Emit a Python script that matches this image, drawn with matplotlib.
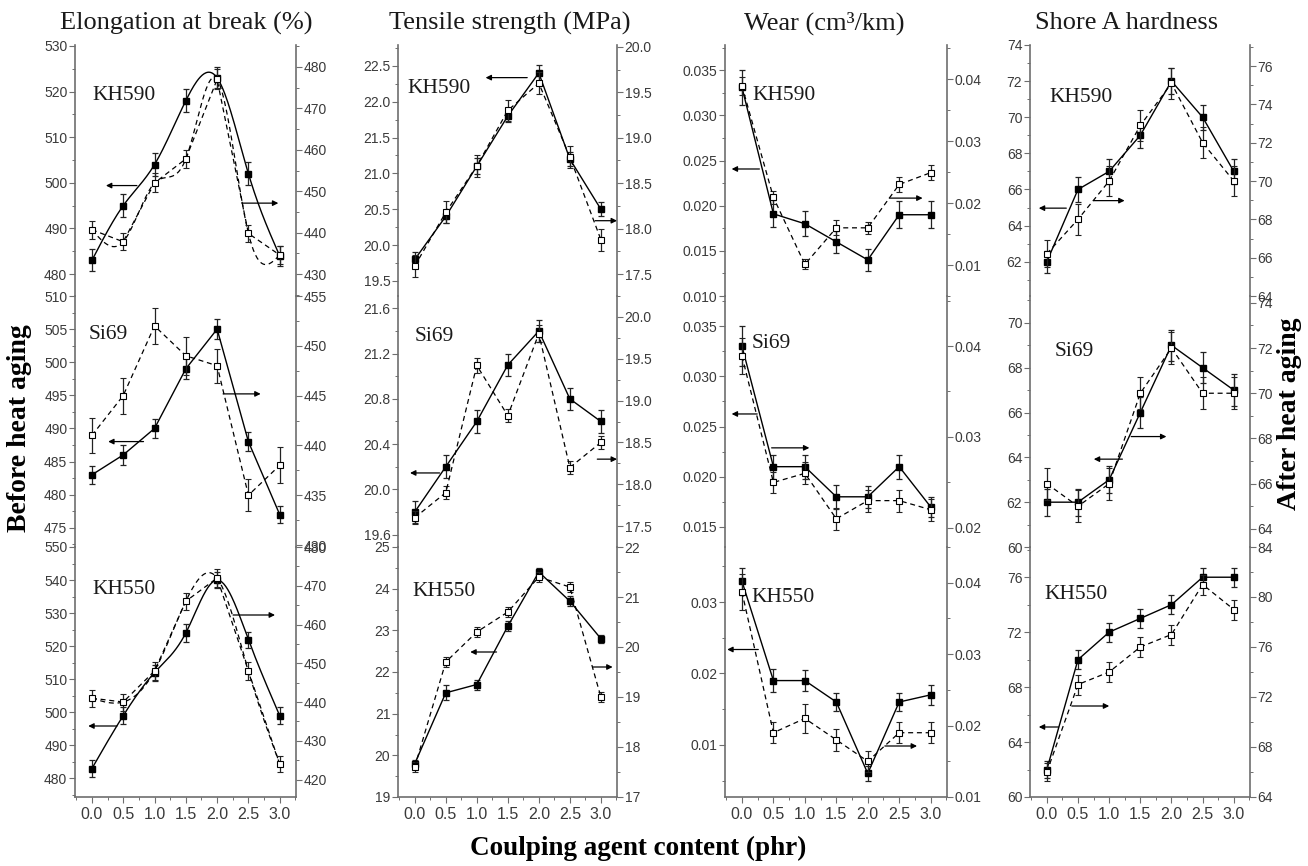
import numpy as np
import matplotlib.pyplot as plt
from matplotlib.ticker import MultipleLocator, FormatStrFormatter

plt.rcParams["font.family"] = ["Liberation Sans Narrow", "Liberation Sans", "DejaVu Sans"]
SERIF = ["Liberation Serif", "DejaVu Serif"]

content = [0.0, 0.5, 1.0, 1.5, 2.0, 2.5, 3.0]
agents = ["KH590", "Si69", "KH550"]
properties = ["Elongation at break (%)", "Tensile strength (MPa)",
              "Wear (cm\u00b3/km)", "Shore A hardness"]

# before heat aging -> left axis, filled squares, solid line
# after heat aging  -> right axis, open squares, dashed line
elong_before = {"KH590": [483, 495, 504, 518, 523, 502, 484],
                "Si69": [483, 486, 490, 499, 505, 488, 477],
                "KH550": [483, 499, 512, 524, 540, 522, 499]}
elong_after = {"KH590": [440.7, 437.8, 452.0, 457.8, 477.0, 439.8, 434.6],
               "Si69": [441, 445, 452, 449, 448, 435, 438],
               "KH550": [441, 440, 448, 466, 472, 448, 424]}
elong_before_err = {"KH590": [2.4, 2.5, 2.6, 2.5, 2.3, 2.5, 2.2],
                    "Si69": [1.4, 1.5, 1.5, 1.6, 1.5, 1.4, 1.3],
                    "KH550": [2.6, 2.5, 2.4, 2.6, 2.5, 2.4, 2.5]}
elong_after_err = {"KH590": [2.2, 2.0, 2.3, 2.1, 2.4, 2.0, 2.1],
                   "Si69": [1.8, 1.8, 1.8, 1.9, 1.7, 1.6, 1.8],
                   "KH550": [2.2, 2.2, 2.4, 2.2, 2.3, 2.3, 2.0]}

tensile_before = {"KH590": [19.8, 20.4, 21.1, 21.8, 22.4, 21.2, 20.5],
                  "Si69": [19.8, 20.2, 20.6, 21.1, 21.4, 20.8, 20.6],
                  "KH550": [19.8, 21.5, 21.7, 23.1, 24.4, 23.7, 22.8]}
tensile_after = {"KH590": [17.59, 18.18, 18.69, 19.30, 19.60, 18.79, 17.88],
                 "Si69": [17.6, 17.9, 19.42, 18.82, 19.8, 18.2, 18.5],
                 "KH550": [17.6, 19.7, 20.3, 20.7, 21.4, 21.2, 19.0]}
tensile_before_err = {"KH590": [0.10, 0.09, 0.11, 0.09, 0.11, 0.10, 0.10],
                      "Si69": [0.10, 0.10, 0.10, 0.10, 0.10, 0.10, 0.10],
                      "KH550": [0.08, 0.18, 0.12, 0.12, 0.10, 0.12, 0.10]}
tensile_after_err = {"KH590": [0.12, 0.12, 0.12, 0.12, 0.12, 0.12, 0.12],
                     "Si69": [0.08, 0.08, 0.09, 0.08, 0.10, 0.08, 0.08],
                     "KH550": [0.10, 0.10, 0.10, 0.10, 0.10, 0.10, 0.10]}

wear_before = {"KH590": [0.0331, 0.0191, 0.0180, 0.0160, 0.0140, 0.0190, 0.0190],
               "Si69": [0.0330, 0.0210, 0.0210, 0.0180, 0.0180, 0.0210, 0.0170],
               "KH550": [0.0329, 0.0190, 0.0190, 0.0160, 0.0060, 0.0160, 0.0170]}
wear_after = {"KH590": [0.0389, 0.0209, 0.0101, 0.0160, 0.0160, 0.0230, 0.0249],
              "Si69": [0.0389, 0.0250, 0.0260, 0.0210, 0.0230, 0.0230, 0.0220],
              "KH550": [0.0387, 0.0190, 0.0210, 0.0180, 0.0150, 0.0190, 0.0190]}
wear_before_err = {"KH590": [0.0019, 0.0015, 0.0014, 0.0012, 0.0012, 0.0015, 0.0015],
                   "Si69": [0.0020, 0.0012, 0.0012, 0.0012, 0.0011, 0.0012, 0.0010],
                   "KH550": [0.0019, 0.0016, 0.0015, 0.0013, 0.0010, 0.0013, 0.0014]}
wear_after_err = {"KH590": [0.0014, 0.0010, 0.0008, 0.0012, 0.0010, 0.0012, 0.0012],
                  "Si69": [0.0020, 0.0012, 0.0012, 0.0012, 0.0012, 0.0012, 0.0012],
                  "KH550": [0.0025, 0.0015, 0.0020, 0.0015, 0.0015, 0.0015, 0.0015]}

hard_before = {"KH590": [62, 66, 67, 69, 72, 70, 67],
               "Si69": [62, 62, 63, 66, 69, 68, 67],
               "KH550": [62, 70, 72, 73, 74, 76, 76]}
hard_after = {"KH590": [66.2, 68.0, 70.0, 72.9, 75.1, 72.0, 70.0],
              "Si69": [66, 65, 66, 70, 72, 70, 70],
              "KH550": [66, 73, 74, 76, 77, 81, 79]}
hard_before_err = {"KH590": [0.6, 0.7, 0.7, 0.7, 0.7, 0.7, 0.7],
                   "Si69": [0.6, 0.6, 0.6, 0.7, 0.7, 0.7, 0.7],
                   "KH550": [0.6, 0.7, 0.7, 0.7, 0.7, 0.7, 0.7]}
hard_after_err = {"KH590": [0.7, 0.8, 0.8, 0.8, 0.8, 0.8, 0.8],
                  "Si69": [0.7, 0.7, 0.7, 0.7, 0.7, 0.7, 0.7],
                  "KH550": [0.7, 0.8, 0.8, 0.8, 0.8, 0.8, 0.8]}

series = [(elong_before, elong_after, elong_before_err, elong_after_err),
          (tensile_before, tensile_after, tensile_before_err, tensile_after_err),
          (wear_before, wear_after, wear_before_err, wear_after_err),
          (hard_before, hard_after, hard_before_err, hard_after_err)]

# ---- layout / axis styling ----
W, H = 1308, 866
col_x = [(75, 296), (398, 617), (725, 947), (1030, 1250)]
row_y = [(45, 296), (296, 547), (547, 797)]

left_lim = [[(475.2, 530.2), (472.1, 510.0), (474.4, 550.0)],
            [(19.29, 22.79), (19.49, 21.71), (19.0, 25.0)],
            [(0.0100, 0.0378), (0.0130, 0.0380), (0.0027, 0.0377)],
            [(60.1, 74.0), (60.0, 71.2), (60.0, 78.2)]]
right_lim = [[(424.7, 485.3), (429.8, 455.0), (415.5, 480.0)],
             [(17.26, 20.02), (17.25, 20.25), (17.0, 22.0)],
             [(0.005, 0.0455), (0.0179, 0.0455), (0.010, 0.045)],
             [(64.0, 77.1), (63.2, 74.3), (64.0, 84.0)]]
left_step = [[10, 5, 10], [0.5, 0.4, 1], [0.005, 0.005, 0.01], [2, 2, 4]]
right_step = [[10, 5, 10], [0.5, 0.5, 1], [0.01, 0.01, 0.01], [2, 2, 4]]
left_fmt = [["%d"] * 3, ["%.1f", "%.1f", "%d"], ["%.3f", "%.3f", "%.2f"], ["%d"] * 3]
right_fmt = [["%d"] * 3, ["%.1f", "%.1f", "%d"], ["%.2f"] * 3, ["%d"] * 3]
smooth_panels = {(0, 0), (0, 2)}

# arrows in axes fraction: (x_start, x_end, y)
arrows = {(0, 0): [(0.28, 0.14, 0.44), (0.755, 0.92, 0.37)],
          (0, 1): [(0.31, 0.15, 0.42), (0.67, 0.84, 0.61)],
          (0, 2): [(0.19, 0.06, 0.284), (0.715, 0.905, 0.728)],
          (1, 0): [(0.59, 0.40, 0.87), (0.90, 1.0, 0.30)],
          (1, 1): [(0.19, 0.055, 0.295), (0.91, 1.0, 0.35)],
          (1, 2): [(0.45, 0.33, 0.58), (0.89, 0.98, 0.52)],
          (2, 0): [(0.155, 0.03, 0.506), (0.74, 0.89, 0.39)],
          (2, 1): [(0.145, 0.03, 0.53), (0.21, 0.38, 0.395)],
          (2, 2): [(0.15, 0.01, 0.59), (0.72, 0.865, 0.204)],
          (3, 0): [(0.165, 0.04, 0.35), (0.29, 0.43, 0.38)],
          (3, 1): [(0.42, 0.29, 0.35), (0.46, 0.62, 0.44)],
          (3, 2): [(0.13, 0.04, 0.28), (0.19, 0.36, 0.364)]}
tag_pos = {(0, 0): (0.08, 0.80), (0, 1): (0.06, 0.845), (0, 2): (0.077, 0.83),
           (1, 0): (0.045, 0.825), (1, 1): (0.075, 0.837), (1, 2): (0.065, 0.82),
           (2, 0): (0.125, 0.80), (2, 1): (0.12, 0.81), (2, 2): (0.12, 0.80),
           (3, 0): (0.09, 0.79), (3, 1): (0.11, 0.78), (3, 2): (0.064, 0.81)}

SPINE = "#6e6e6e"
LABEL = "#3a3a3a"


def spline(xs, ys, n=200):
    """natural cubic spline through the points, for the smooth curves"""
    xs = np.asarray(xs, float)
    ys = np.asarray(ys, float)
    k = len(xs)
    h = np.diff(xs)
    A = np.zeros((k, k))
    b = np.zeros(k)
    A[0, 0] = A[-1, -1] = 1
    for i in range(1, k - 1):
        A[i, i - 1] = h[i - 1]
        A[i, i] = 2 * (h[i - 1] + h[i])
        A[i, i + 1] = h[i]
        b[i] = 6 * ((ys[i + 1] - ys[i]) / h[i] - (ys[i] - ys[i - 1]) / h[i - 1])
    M = np.linalg.solve(A, b)
    xx = np.linspace(xs[0], xs[-1], n)
    j = np.clip(np.searchsorted(xs, xx) - 1, 0, k - 2)
    hj = h[j]
    a = xs[j + 1] - xx
    c = xx - xs[j]
    yy = (M[j] * a ** 3 + M[j + 1] * c ** 3) / (6 * hj) \
        + (ys[j] - M[j] * hj ** 2 / 6) * a / hj \
        + (ys[j + 1] - M[j + 1] * hj ** 2 / 6) * c / hj
    return xx, yy


def style_axis(ax, side, show_bottom):
    for s in ["top", "bottom", "left", "right"]:
        ax.spines[s].set_visible(False)
    ax.spines[side].set_visible(True)
    ax.spines[side].set_color(SPINE)
    ax.spines[side].set_linewidth(1.2)
    if show_bottom:
        ax.spines["bottom"].set_visible(True)
        ax.spines["bottom"].set_color(SPINE)
        ax.spines["bottom"].set_linewidth(1.2)
    ax.tick_params(axis="y", which="both", direction="out", colors=SPINE,
                   labelcolor=LABEL, labelsize=10, pad=1.5)
    ax.tick_params(axis="y", which="major", length=4, width=0.8)
    ax.tick_params(axis="y", which="minor", length=2.5, width=0.7)


fig = plt.figure(figsize=(W / 100, H / 100), dpi=100)

for c in range(4):
    before, after, before_err, after_err = series[c]
    for r, agent in enumerate(agents):
        x0, x1 = col_x[c]
        y0, y1 = row_y[r]
        axl = fig.add_axes([x0 / W, 1 - y1 / H, (x1 - x0) / W, (y1 - y0) / H])
        axl.patch.set_alpha(0)
        axr = axl.twinx()

        axl.set_xlim(-0.27, 3.26)
        axl.set_ylim(*left_lim[c][r])
        axr.set_ylim(*right_lim[c][r])

        smooth = (c, r) in smooth_panels
        if smooth:
            sx, sy = spline(content, before[agent])
            axl.plot(sx, sy, color="k", lw=1.0)
            sx, sy = spline(content, after[agent])
            axr.plot(sx, sy, color="k", lw=0.9, ls=(0, (4, 3)))
        # filled squares, before aging, left axis
        axl.errorbar(content, before[agent], yerr=before_err[agent],
                     fmt="s" if smooth else "s-", color="k", lw=1.0, ms=5,
                     elinewidth=0.9, capsize=2.2, capthick=0.9, ecolor="#222")
        # open squares, after aging, right axis
        axr.errorbar(content, after[agent], yerr=after_err[agent],
                     fmt="s" if smooth else "s--", color="k", lw=0.9, ms=4,
                     mfc="white", mec="k", mew=0.8, dashes=(4, 3),
                     elinewidth=0.9, capsize=2.2, capthick=0.9, ecolor="#222")

        style_axis(axl, "left", r == 2)
        style_axis(axr, "right", False)
        axl.yaxis.set_major_locator(MultipleLocator(left_step[c][r]))
        axl.yaxis.set_minor_locator(MultipleLocator(left_step[c][r] / 2))
        axl.yaxis.set_major_formatter(FormatStrFormatter(left_fmt[c][r]))
        axr.yaxis.set_major_locator(MultipleLocator(right_step[c][r]))
        axr.yaxis.set_minor_locator(MultipleLocator(right_step[c][r] / 2))
        axr.yaxis.set_major_formatter(FormatStrFormatter(right_fmt[c][r]))

        if r == 2:
            axl.xaxis.set_major_locator(MultipleLocator(0.5))
            axl.xaxis.set_minor_locator(MultipleLocator(0.25))
            axl.xaxis.set_major_formatter(FormatStrFormatter("%.1f"))
            axl.tick_params(axis="x", which="both", direction="out", colors=SPINE,
                            labelcolor=LABEL, labelsize=11.5, pad=3)
            axl.tick_params(axis="x", which="major", length=4, width=0.8)
            axl.tick_params(axis="x", which="minor", length=2.5, width=0.7)
        else:
            axl.tick_params(axis="x", which="both", bottom=False, labelbottom=False)
        axr.tick_params(axis="x", which="both", bottom=False, labelbottom=False)

        for xs, xe, ya in arrows[(c, r)]:
            axr.annotate("", xy=(xe, ya), xytext=(xs, ya),
                         xycoords="axes fraction", textcoords="axes fraction",
                         arrowprops=dict(arrowstyle="-|>", color="k", lw=0.9,
                                         mutation_scale=8, shrinkA=0, shrinkB=0))
        tx, ty = tag_pos[(c, r)]
        axr.text(tx, ty, agent, transform=axr.transAxes, family=SERIF,
                 fontsize=15.5, ha="left", va="center", color="#1a1a1a")

# column titles
title_x = [186, 510, 824, 1127]
for c, t in enumerate(properties):
    fig.text(title_x[c] / W, 1 - 23 / H, t, family=SERIF, fontsize=19,
             ha="center", va="center", color="#1a1a1a")

fig.text(20 / W, 1 - 428 / H, "Before heat aging", family=SERIF, fontsize=20,
         fontweight="bold", rotation=90, ha="center", va="center")
fig.text(1290 / W, 1 - 414 / H, "After heat aging", family=SERIF, fontsize=20,
         fontweight="bold", rotation=90, ha="center", va="center")
fig.text(638 / W, 1 - 848 / H, "Coulping agent content (phr)", family=SERIF,
         fontsize=19.5, fontweight="bold", ha="center", va="center")

fig.savefig("out.png", dpi=100)
